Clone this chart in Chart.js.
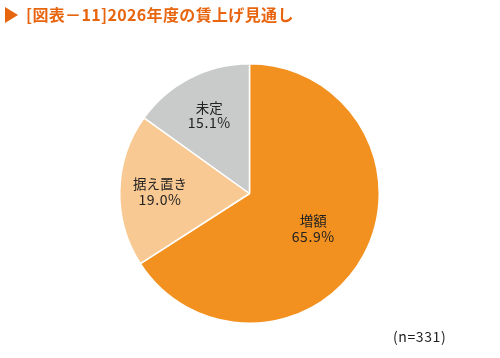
<!DOCTYPE html>
<html><head><meta charset="utf-8">
<script src="https://cdn.jsdelivr.net/npm/chart.js@4"></script>
<style>
html,body{margin:0;padding:0;background:#fff;width:500px;height:358px;overflow:hidden;}
#wrap{position:absolute;left:0;top:0;width:500px;height:358px;}
#title{position:absolute;left:5px;top:3px;font-family:"Noto Sans CJK JP";font-size:16px;font-weight:bold;color:#E8650F;white-space:nowrap;line-height:22px;letter-spacing:0.35px;}
#title .tri{display:inline-block;width:0;height:0;border-top:8px solid transparent;border-bottom:8px solid transparent;border-left:13px solid #E8650F;vertical-align:-2px;margin-right:8px;}
#note{position:absolute;left:393px;top:326px;font-family:"Noto Sans CJK JP";font-size:14px;color:#222;letter-spacing:0.6px;}
</style></head><body>
<div id="wrap"><canvas id="c" width="500" height="358"></canvas></div>
<div id="title"><span class="tri"></span>[図表－11]2026年度の賃上げ見通し</div>
<div id="note">(n=331)</div>
<script>
const categories = ["増額", "据え置き", "未定"];
const values = [65.9, 19.0, 15.1];
const colors = ["#F29120", "#F9C993", "#C9CACA"];

const labelPlugin = {
  id: 'sliceLabels',
  afterDatasetsDraw(chart) {
    const ctx = chart.ctx;
    const meta = chart.getDatasetMeta(0);
    const factors = [0.56, 0.69, 0.68];
    ctx.save();
    ctx.fillStyle = '#222';
    ctx.textAlign = 'center';
    ctx.textBaseline = 'middle';
    meta.data.forEach((arc, i) => {
      const p = arc.getProps(['x','y','startAngle','endAngle','outerRadius'], true);
      const mid = (p.startAngle + p.endAngle) / 2;
      const r = p.outerRadius * factors[i];
      const x = p.x + Math.cos(mid) * r;
      const y = p.y + Math.sin(mid) * r;
      ctx.font = '13.5px "Noto Sans CJK JP"';
      ctx.letterSpacing = '0px';
      ctx.fillText(categories[i], x, y - 7.5);
      ctx.font = '14px "Noto Sans CJK JP"';
      ctx.letterSpacing = '0.6px';
      ctx.fillText(values[i].toFixed(1) + '%', x, y + 8);
    });
    ctx.restore();
  }
};

new Chart(document.getElementById('c'), {
  type: 'pie',
  data: {
    labels: categories,
    datasets: [{
      data: values,
      backgroundColor: colors,
      borderColor: '#ffffff',
      borderWidth: 1.5
    }]
  },
  options: {
    responsive: false,
    animation: false,
    layout: { padding: { left: 119, right: 120, top: 63, bottom: 34 } },
    plugins: { legend: { display: false }, tooltip: { enabled: false } }
  },
  plugins: [labelPlugin]
});
</script>
</body></html>
